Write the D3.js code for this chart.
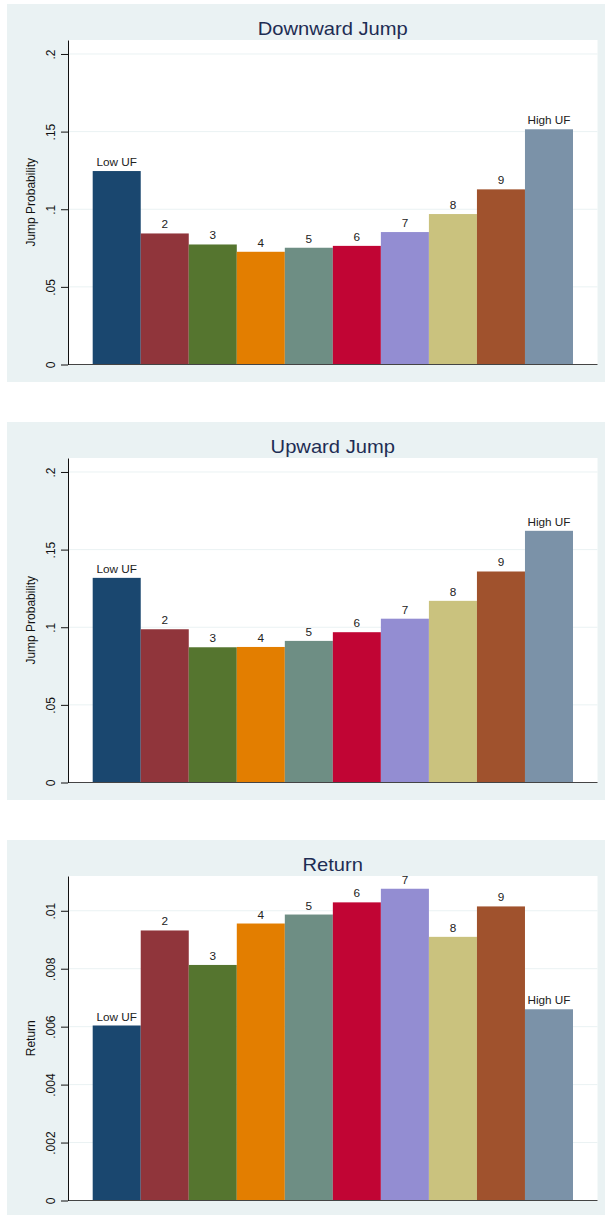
<!DOCTYPE html>
<html>
<head>
<meta charset="utf-8">
<script src="https://cdn.jsdelivr.net/npm/d3@7"></script>
<style>
  body { margin: 0; background: white; }
  text { font-family: "Liberation Sans", Arial, sans-serif; }
</style>
</head>
<body>
<div id="chart"></div>
<script>
// categories (utility factor deciles)
const categories = ["Low UF", "2", "3", "4", "5", "6", "7", "8", "9", "High UF"];
const barColors = ["#1a476f", "#90353b", "#55752f", "#e37e00", "#6e8e84",
                   "#c10534", "#938dd2", "#cac27e", "#a0522d", "#7b92a8"];

// series values
const downwardJump = [0.1246, 0.0844, 0.0773, 0.0726, 0.0752, 0.0764, 0.0853, 0.0969, 0.1128, 0.1515];
const upwardJump   = [0.1318, 0.0987, 0.0871, 0.0873, 0.0912, 0.0968, 0.1055, 0.1170, 0.1359, 0.1621];
const returns      = [0.00604, 0.00932, 0.00813, 0.00956, 0.00987, 0.01029, 0.01076, 0.00910, 0.01015, 0.00660];

// tick values / labels
const probTicks = [0, 0.05, 0.1, 0.15, 0.2];
const probTickLabels = ["0", ".05", ".1", ".15", ".2"];
const retTicks = [0, 0.002, 0.004, 0.006, 0.008, 0.01];
const retTickLabels = ["0", ".002", ".004", ".006", ".008", ".01"];

const titles = ["Downward Jump", "Upward Jump", "Return"];
const yTitles = ["Jump Probability", "Jump Probability", "Return"];

const layout = {
    width: 605,
    height: 1215,
    panelTop: 4,
    panelStep: 418,
    panelHeight: 378,
    panelLeft: 7,
    plotLeft: 68,
    plotRight: 597.5,
    plotTop: 36,      // relative to panel top
    plotBottom: 360.5,
    barLeft: 92.7,
    barRight: 573,
    stretch: 1.12     // the original export is a bit wider than tall
};

const panels = [
    { title: titles[0], yTitle: yTitles[0], values: downwardJump, ticks: probTicks, tickLabels: probTickLabels, yMax: 0.209 },
    { title: titles[1], yTitle: yTitles[1], values: upwardJump, ticks: probTicks, tickLabels: probTickLabels, yMax: 0.209 },
    { title: titles[2], yTitle: yTitles[2], values: returns, ticks: retTicks, tickLabels: retTickLabels, yMax: 0.0112 }
];

let svg = d3.select("#chart").append("svg")
    .attr("width", layout.width)
    .attr("height", layout.height)
    .attr("viewBox", [0, 0, layout.width, layout.height].join(" "));

let xScale = d3.scaleBand()
    .domain(categories)
    .range([layout.barLeft, layout.barRight])
    .padding(0);

function drawPanel(panel, idx) {
    let g = svg.append("g")
        .attr("transform", `translate(0,${layout.panelTop + idx * layout.panelStep})`);

    // background of graph region
    g.append("rect")
        .attr("x", layout.panelLeft)
        .attr("y", 0)
        .attr("width", layout.width - layout.panelLeft)
        .attr("height", layout.panelHeight)
        .attr("fill", "#eaf2f3");

    // plot region
    g.append("rect")
        .attr("x", layout.plotLeft)
        .attr("y", layout.plotTop)
        .attr("width", layout.plotRight - layout.plotLeft)
        .attr("height", layout.plotBottom - layout.plotTop)
        .attr("fill", "white");

    let yScale = d3.scaleLinear()
        .domain([0, panel.yMax])
        .range([layout.plotBottom, layout.plotTop]);

    // gridlines
    g.selectAll(".grid")
        .data(panel.ticks.filter(d => d > 0))
        .join("line")
        .attr("class", "grid")
        .attr("x1", layout.plotLeft)
        .attr("x2", layout.plotRight)
        .attr("y1", d => yScale(d))
        .attr("y2", d => yScale(d))
        .attr("stroke", "#eaf2f3")
        .attr("stroke-width", 1);

    // bars
    g.selectAll(".bar")
        .data(panel.values)
        .join("rect")
        .attr("class", "bar")
        .attr("x", (d, i) => xScale(categories[i]))
        .attr("y", d => yScale(d))
        .attr("width", xScale.bandwidth())
        .attr("height", d => yScale(0) - yScale(d))
        .attr("fill", (d, i) => barColors[i]);

    // bar labels
    g.selectAll(".barlabel")
        .data(panel.values)
        .join("text")
        .attr("class", "barlabel")
        .attr("transform", (d, i) =>
            `translate(${xScale(categories[i]) + xScale.bandwidth() / 2},${yScale(d) - 5}) scale(${layout.stretch},1)`)
        .attr("text-anchor", "middle")
        .attr("font-size", 10.5)
        .attr("fill", "#222")
        .text((d, i) => categories[i]);

    // x axis line
    g.append("line")
        .attr("x1", layout.plotLeft)
        .attr("x2", layout.plotRight)
        .attr("y1", yScale(0))
        .attr("y2", yScale(0))
        .attr("stroke", "#444")
        .attr("stroke-width", 1.2);

    // y axis
    let yAxis = g.append("g")
        .attr("transform", `translate(${layout.plotLeft},0)`)
        .call(d3.axisLeft(yScale)
            .tickValues(panel.ticks)
            .tickFormat((d, i) => panel.tickLabels[i])
            .tickSize(7)
            .tickSizeOuter(0));
    yAxis.select(".domain").attr("stroke", "#111");
    yAxis.selectAll(".tick line").attr("stroke", "#111");
    yAxis.selectAll(".tick text")
        .attr("x", null)
        .attr("dy", null)
        .attr("transform", "translate(-13,0) rotate(-90)")
        .attr("text-anchor", "middle")
        .attr("font-family", "Liberation Sans, Arial, sans-serif")
        .attr("font-size", 12)
        .attr("fill", "#111");

    // y axis title
    g.append("text")
        .attr("transform", `translate(35,${(layout.plotTop + layout.plotBottom) / 2}) rotate(-90)`)
        .attr("text-anchor", "middle")
        .attr("font-size", 12)
        .attr("fill", "#111")
        .text(panel.yTitle);

    // panel title
    g.append("text")
        .attr("transform", `translate(${(layout.plotLeft + layout.plotRight) / 2},30.5) scale(${layout.stretch},1)`)
        .attr("text-anchor", "middle")
        .attr("font-size", 18)
        .attr("fill", "#1e2d53")
        .text(panel.title);
}

panels.forEach((p, i) => drawPanel(p, i));
</script>
</body>
</html>
